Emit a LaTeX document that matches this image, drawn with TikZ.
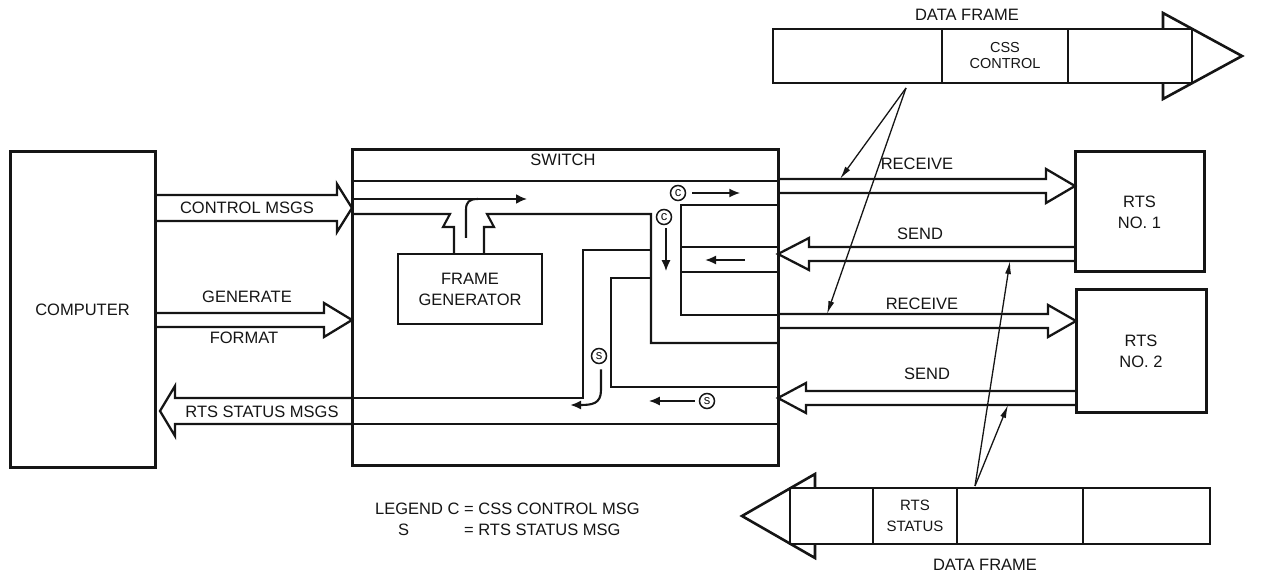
\documentclass[tikz,border=0pt]{standalone}
\usepackage{fontspec}
\setmainfont{Liberation Sans}
\usepackage{tikz}
\usetikzlibrary{arrows.meta,positioning,calc}
\definecolor{ink}{HTML}{151515}
\newcommand{\lblfont}{\fontsize{16.5}{21}\selectfont}
\newcommand{\cellfont}{\fontsize{14.5}{16}\selectfont}
\tikzset{
  blk/.style={draw=ink, line width=3pt, align=center, inner sep=0pt, outer sep=0pt, font=\lblfont, text=ink},
  genb/.style={blk, line width=2.3pt},
  cellb/.style={draw=ink, line width=2.2pt, align=center, inner sep=0pt, outer sep=0pt,
                minimum height=54pt, font=\cellfont, text=ink},
  chan/.style={draw=ink, line width=2.1pt, line join=miter},
  hol/.style={draw=ink, line width=2.3pt, line join=miter},
  lbl/.style={font=\lblfont, text=ink, inner sep=0pt},
  msgc/.style={draw=ink, circle, line width=1.5pt, minimum size=15pt, inner sep=0pt,
               font=\fontsize{13}{13}\selectfont, text=ink},
  flow/.style={draw=ink, line width=1.8pt, -{Latex[length=11pt,width=9pt]}},
  ptr/.style={draw=ink, line width=1.3pt, -{Latex[length=13pt,width=6pt]}},
}
\newcommand{\hollowarrow}[5]{%
  \draw[hol] ($(#1)+(0,#3)$) -- ($(#2)+({-(#5)},#3)$) -- ($(#2)+({-(#5)},#4)$) -- (#2)
    -- ($(#2)+({-(#5)},{-(#4)})$) -- ($(#2)+({-(#5)},{-(#3)})$) -- ($(#1)+(0,{-(#3)})$);
}

\begin{document}
\begin{tikzpicture}[x=1pt, y=-1pt]
  \useasboundingbox (0,0) rectangle (1264,577);
  \node[blk, minimum width=145pt, minimum height=315pt] (computer) at (82.5,309.5) {COMPUTER};
  \node[blk, minimum width=426pt, minimum height=315pt] (switch) at (565,307.5) {};
  \node[lbl] (swname) at (563,160) {SWITCH};
  \node[genb, minimum width=144pt, minimum height=70pt] (framegen) at (470,289) {FRAME\\GENERATOR};
  \node[blk, minimum width=129pt, minimum height=120pt] (rts1) at (1139.5,212) {RTS\\NO. 1};
  \node[blk, minimum width=130pt, minimum height=122pt] (rts2) at (1141,351) {RTS\\NO. 2};

  \coordinate (ctlA) at (computer.east |- 0,208);
  \coordinate (ctlB) at (switch.west |- 0,208);
  \coordinate (genA) at (computer.east |- 0,320);
  \coordinate (genB) at (switch.west |- 0,320);
  \coordinate (stsA) at (switch.west |- 0,411);
  \coordinate (stsB) at (160,411);
  \coordinate (rx1A) at (switch.east |- 0,186);
  \coordinate (rx1B) at (rts1.west |- 0,186);
  \coordinate (tx1A) at (rts1.west |- 0,254);
  \coordinate (tx1B) at (switch.east |- 0,254);
  \coordinate (rx2A) at (switch.east |- 0,321);
  \coordinate (rx2B) at (rts2.west |- 0,321);
  \coordinate (tx2A) at (rts2.west |- 0,398);
  \coordinate (tx2B) at (switch.east |- 0,398);

  \hollowarrow{ctlA}{ctlB}{13}{24}{15}
  \hollowarrow{genA}{genB}{7}{17}{28}
  \hollowarrow{stsA}{stsB}{13}{25}{-15}
  \hollowarrow{rx1A}{rx1B}{7}{17}{29}
  \hollowarrow{tx1A}{tx1B}{7}{16}{-31}
  \hollowarrow{rx2A}{rx2B}{7}{16}{28}
  \hollowarrow{tx2A}{tx2B}{7}{15}{-28}

  \node[lbl] (ctllbl) at (247,208) {CONTROL MSGS};
  \node[lbl] (genlbl) at (247,297) {GENERATE};
  \node[lbl] (fmtlbl) at (244,338) {FORMAT};
  \node[lbl] (stslbl) at (262,412) {RTS STATUS MSGS};
  \node[lbl] (rx1lbl) at (917,164) {RECEIVE};
  \node[lbl] (tx1lbl) at (920,234) {SEND};
  \node[lbl] (rx2lbl) at (922,304) {RECEIVE};
  \node[lbl] (tx2lbl) at (927,374) {SEND};

  \draw[chan] (352,181) -- (778,181);
  \draw[chan, -{Latex[length=11pt,width=10pt]}] (352,199) -- (527,199);
  \draw[chan] (352,214) -- (450,214) -- (443,227) -- (454,227) -- (454,254);
  \draw[chan] (484,254) -- (484,227) -- (494,227) -- (487,214) -- (651,214) -- (651,343) -- (778,343);
  \draw[chan] (466,238) -- (466,210) .. controls (466,202) and (469,199) .. (478,199);
  \draw[chan] (778,205) -- (681,205) -- (681,315) -- (778,315);
  \draw[chan] (681,247) -- (778,247);
  \draw[chan] (681,272) -- (778,272);
  \draw[chan] (352,398) -- (583,398) -- (583,250) -- (651,250);
  \draw[chan] (651,278) -- (611,278) -- (611,387) -- (778,387);
  \draw[chan] (352,424) -- (778,424);

  \node[msgc] (cc1) at (678,193) {c};
  \draw[flow] (cc1.east) ++(6,0) -- ++(48,0);
  \node[msgc] (cc2) at (664,217) {c};
  \draw[flow] (cc2.south) ++(2,3) -- ++(0,43);
  \draw[flow] (745,260) -- (705,260);
  \node[msgc] (ss1) at (599,356) {s};
  \draw[chan, -{Latex[length=11pt,width=9pt]}] (ss1.south) ++(2,5) -- (601,390)
    .. controls (601,404) and (592,405) .. (570,405);
  \node[msgc] (ss2) at (707,401) {s};
  \draw[flow] (ss2.west) ++(-4,0) -- ++(-46,0);

  \node[cellb, minimum width=169pt] (tc1) at (857.5,56) {};
  \node[cellb, minimum width=126pt] (tc2) at (1005,56) {CSS\\CONTROL};
  \node[cellb, minimum width=124pt] (tc3) at (1130,56) {};
  \draw[hol, line width=2.6pt] (1163,29) -- (1163,13) -- (1242,56) -- (1163,99) -- (1163,83);
  \node[lbl] (toptitle) at (967,15) {DATA FRAME};

  \node[cellb, minimum width=83pt, minimum height=56pt] (bc1) at (831.5,516) {};
  \node[cellb, minimum width=84pt, minimum height=56pt, font=\fontsize{15}{21}\selectfont] (bc2) at (915,516) {RTS\\STATUS};
  \node[cellb, minimum width=126pt, minimum height=56pt] (bc3) at (1020,516) {};
  \node[cellb, minimum width=127pt, minimum height=56pt] (bc4) at (1146.5,516) {};
  \draw[hol, line width=2.6pt] (815,488) -- (815,474) -- (742,516) -- (815,558) -- (815,544);
  \node[lbl] (bottitle) at (985,565) {DATA FRAME};

  \coordinate (apexT) at (906,88);
  \coordinate (hitR1) at (840,179);
  \coordinate (hitR2) at (827,314);
  \draw[ptr] (apexT) -- (hitR1);
  \draw[ptr] (apexT) -- (hitR2);
  \coordinate (apexB) at (975,486);
  \coordinate (hitS1) at (1010,261);
  \coordinate (hitS2) at (1008,405);
  \draw[ptr] (apexB) -- (hitS1);
  \draw[ptr] (apexB) -- (hitS2);

  \node[lbl, anchor=west] (legend) at (375,521)
    {\begin{tabular}{@{}l@{ }l@{}}LEGEND C & = CSS CONTROL MSG\\ \hspace{23pt}S & = RTS STATUS MSG\end{tabular}};
\end{tikzpicture}
\end{document}
